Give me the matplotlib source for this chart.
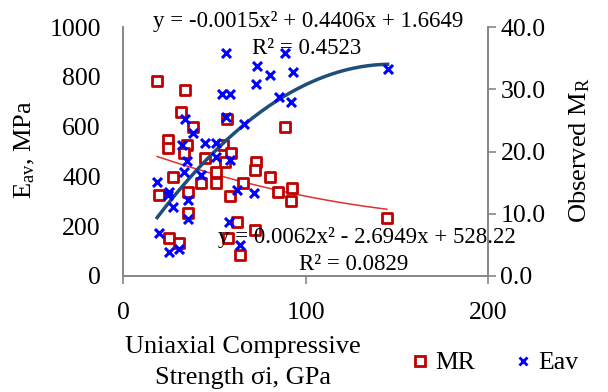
import matplotlib
matplotlib.use("Agg")
import matplotlib.pyplot as plt
import numpy as np
from matplotlib.lines import Line2D

plt.rcParams['font.family'] = ['Liberation Serif', 'DejaVu Serif']
plt.rcParams['mathtext.fontset'] = 'custom'
plt.rcParams['mathtext.rm'] = 'Liberation Serif'
plt.rcParams['mathtext.it'] = 'Liberation Serif'

# MR (left axis, MPa) vs UCS
mr_x = [18.7, 34.2, 31.9, 38.3, 56.8, 88.7, 24.9, 24.9, 35.0, 54.6, 33.5, 59.4,
        44.8, 55.7, 73.1, 72.3, 51.2, 27.5, 80.3, 50.8, 43.0, 65.7, 92.7, 85.2,
        19.8, 35.7, 58.5, 92.2, 35.7, 62.6, 72.1, 57.5, 25.0, 30.8, 64.2, 144.6]
mr_y = [784, 745, 659, 600, 629, 600, 546, 513, 528, 528, 493, 492,
        473, 456, 459, 426, 419, 399, 399, 375, 372, 373, 352, 336,
        325, 339, 321, 301, 254, 218, 183, 151, 151, 131, 84, 234]

# Eav (right axis) vs UCS
eav_x = [56.6, 88.7, 73.4, 80.3, 72.7, 93.1, 54.1, 58.7, 85.4, 92.2, 56.3, 33.9,
         66.1, 38.1, 32.1, 44.8, 51.2, 34.8, 51.2, 58.5, 33.5, 43.0, 18.7, 25.3,
         24.8, 35.7, 27.5, 62.7, 71.7, 35.7, 58.1, 19.8, 64.3, 25.3, 30.8, 145.0]
eav_y = [35.8, 35.8, 33.7, 32.3, 30.8, 32.7, 29.2, 29.2, 28.8, 28.0, 25.5, 25.3,
         24.4, 23.0, 21.0, 21.3, 21.3, 18.4, 19.1, 18.7, 16.7, 16.2, 15.1, 13.5,
         13.0, 12.2, 11.1, 13.8, 13.3, 9.1, 8.7, 6.9, 5.0, 3.9, 4.3, 33.2]

# trendline coefficients (as printed on chart)
eav_coef = [-0.0015, 0.4406, 1.6649]
mr_coef = [0.0062, -2.6949, 528.22]
eav_r2 = "0.4523"
mr_r2 = "0.0829"

x_ticks = [0, 100, 200]
left_ticks = [0, 200, 400, 600, 800, 1000]
right_ticks = [0, 10, 20, 30, 40]

W, H = 608, 392
fig = plt.figure(figsize=(W / 100, H / 100), dpi=100)
ax = fig.add_axes([123 / W, 1 - 276 / H, (488 - 123) / W, (276 - 27) / H])
ax2 = ax.twinx()

gray = '#868686'
for a in (ax, ax2):
    for s in a.spines.values():
        s.set_color(gray)
        s.set_linewidth(1.2)
    a.spines['top'].set_visible(False)

ax.set_xlim(0, 200)
ax.set_ylim(0, 1000)
ax2.set_ylim(0, 40)
ax.set_xticks(x_ticks)
ax.set_yticks(left_ticks)
ax2.set_yticks(right_ticks)
ax2.set_yticklabels([f"{v:.1f}" for v in right_ticks])

ax.tick_params(axis='x', direction='out', length=6, width=1.2, color=gray,
               pad=13, labelsize=18.5)
ax.tick_params(axis='y', length=0, pad=16, labelsize=18.5)
ax2.tick_params(axis='y', direction='out', length=6, width=1.2, color=gray,
                pad=3, labelsize=18.5)

red = '#C00000'
blue = '#0000FF'

ax.scatter(mr_x, mr_y, marker='s', s=44, facecolors='white', edgecolors=red,
           linewidths=2, zorder=3)
xx = np.linspace(min(mr_x), max(mr_x), 200)
ax.plot(xx, np.polyval(mr_coef, xx), color='#E03030', lw=1.1, zorder=2)

ax2.scatter(eav_x, eav_y, marker='x', s=42, color=blue, linewidths=2.2, zorder=3)
xx2 = np.linspace(min(eav_x), max(eav_x), 200)
ax2.plot(xx2, np.polyval(eav_coef, xx2), color='#1F4E79', lw=2.5, zorder=2)

def fmt_eq(c):
    a, b, k = c
    sb = '+' if b >= 0 else '-'
    sk = '+' if k >= 0 else '-'
    return f"y = {a:g}x\u00b2 {sb} {abs(b):g}x {sk} {abs(k):g}"

fs_eq = 16.5
fig.text(308 / W, 1 - 21 / H, fmt_eq(eav_coef), ha='center', va='center', fontsize=fs_eq)
fig.text(307 / W, 1 - 48 / H, f"R\u00b2 = {eav_r2}", ha='center', va='center', fontsize=fs_eq)
fig.text(367 / W, 1 - 238 / H, fmt_eq(mr_coef), ha='center', va='center', fontsize=fs_eq)
fig.text(354 / W, 1 - 265 / H, f"R\u00b2 = {mr_r2}", ha='center', va='center', fontsize=fs_eq)

fig.text(25 / W, 1 - 150 / H, r"E$_{\mathrm{av}}$, MPa", rotation=90, ha='center',
         va='center', fontsize=19)
fig.text(580 / W, 1 - 150 / H, r"Observed M$_{\mathrm{R}}$", rotation=90, ha='center',
         va='center', fontsize=19)
fig.text(243 / W, 1 - 347 / H, "Uniaxial Compressive", ha='center', va='center', fontsize=19)
fig.text(243 / W, 1 - 378 / H, "Strength \u03c3i, GPa", ha='center', va='center', fontsize=19)

handles = [Line2D([], [], marker='s', ls='none', markersize=6.5, markerfacecolor='white',
                  markeredgecolor=red, markeredgewidth=2),
           Line2D([], [], marker='x', ls='none', markersize=6, color=blue,
                  markeredgewidth=2)]
fig.legend(handles, ['MR', 'Eav'], loc='center', bbox_to_anchor=(495 / W, 1 - 363 / H),
           ncol=2, frameon=False, fontsize=18.5, handlelength=0.7, handletextpad=0.25,
           columnspacing=1.5, borderpad=0)

fig.savefig("out.png", dpi=100)
